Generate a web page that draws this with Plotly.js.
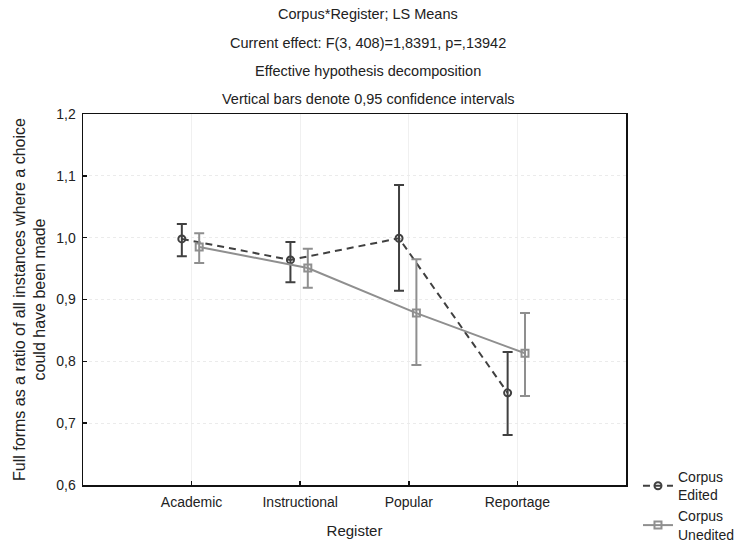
<!DOCTYPE html>
<html>
<head>
<meta charset="utf-8">
<script src="https://cdn.plot.ly/plotly-3.0.1.min.js"></script>
<style>
  html, body { margin: 0; padding: 0; background: #fff; }
  #chart { width: 735px; height: 547px; }
</style>
</head>
<body>
<div id="chart"></div>
<script>
// Registers on the x axis
const registers = ['Academic', 'Instructional', 'Popular', 'Reportage'];

// LS means and 0.95 confidence limits, Corpus Edited
const editedMean  = [0.998, 0.964, 0.999, 0.749];
const editedUpper = [1.022, 0.993, 1.085, 0.815];
const editedLower = [0.970, 0.928, 0.914, 0.681];

// LS means and 0.95 confidence limits, Corpus Unedited
const uneditedMean  = [0.985, 0.951, 0.878, 0.813];
const uneditedUpper = [1.007, 0.982, 0.965, 0.878];
const uneditedLower = [0.959, 0.919, 0.794, 0.744];

// Y tick labels use a decimal comma
const yTickVals = [0.6, 0.7, 0.8, 0.9, 1.0, 1.1, 1.2];
const yTickText = ['0,6', '0,7', '0,8', '0,9', '1,0', '1,1', '1,2'];

const titleLines = [
  'Corpus*Register; LS Means',
  'Current effect: F(3, 408)=1,8391, p=,13942',
  'Effective hypothesis decomposition',
  'Vertical bars denote 0,95 confidence intervals'
];

const FONT = 'Liberation Sans, Arial, sans-serif';
const DARK = '#404040';
const LIGHT = '#8f8f8f';

// Plot box geometry in pixels
const W = 735, H = 547;
const M = { l: 83, r: 109, t: 114, b: 62 };
const plotH = H - M.t - M.b;

// Small horizontal dodge so the two corpora do not overlap
const idx = registers.map((_, i) => i);
const xEdited = idx.map(i => i - 0.09);
const xUnedited = idx.map(i => i + 0.07);

function errs(mean, upper, lower, color) {
  return {
    type: 'data', symmetric: false,
    array: upper.map((u, i) => u - mean[i]),
    arrayminus: mean.map((m, i) => m - lower[i]),
    color: color, thickness: 2, width: 5
  };
}

const traces = [
  {
    x: xEdited, y: editedMean, name: 'Corpus<br>Edited',
    type: 'scatter', mode: 'lines+markers',
    line: { color: DARK, width: 2, dash: '7px,5px' },
    marker: { symbol: 'circle-open', size: 7, color: DARK, line: { width: 2, color: DARK } },
    error_y: errs(editedMean, editedUpper, editedLower, DARK)
  },
  {
    x: xUnedited, y: uneditedMean, name: 'Corpus<br>Unedited',
    type: 'scatter', mode: 'lines+markers',
    line: { color: LIGHT, width: 2 },
    marker: { symbol: 'square-open', size: 7, color: LIGHT, line: { width: 2, color: LIGHT } },
    error_y: errs(uneditedMean, uneditedUpper, uneditedLower, LIGHT)
  }
];

// Four centred heading lines above the plot box
const annotations = titleLines.map((t, i) => ({
  text: t, xref: 'paper', yref: 'paper',
  x: 0.525, y: 1 + (M.t - (14 + i * 28.5)) / plotH,
  xanchor: 'center', yanchor: 'middle', showarrow: false,
  font: { family: FONT, size: 14.5, color: '#222' }
}));

const layout = {
  width: W, height: H,
  margin: M,
  paper_bgcolor: '#fff', plot_bgcolor: '#fff',
  font: { family: FONT, size: 14, color: '#222' },
  showlegend: true,
  legend: {
    xref: 'container', yref: 'container',
    x: 0.868, xanchor: 'left', y: 1 - 461 / H, yanchor: 'top',
    font: { family: FONT, size: 14, color: '#222' },
    bgcolor: 'rgba(0,0,0,0)', tracegroupgap: 2, itemwidth: 30
  },
  xaxis: {
    range: [-1, 4],
    tickvals: idx, ticktext: registers,
    ticks: 'inside', ticklen: 4, tickwidth: 1.5, tickcolor: '#111',
    ticklabelstandoff: 4,
    showline: true, linecolor: '#111', linewidth: 1.5, mirror: true,
    showgrid: true, gridcolor: '#f0f0f0', gridwidth: 1,
    zeroline: false,
    tickfont: { family: FONT, size: 14, color: '#222' },
    title: { text: 'Register', font: { family: FONT, size: 15, color: '#222' }, standoff: 16 }
  },
  yaxis: {
    range: [0.6, 1.2],
    tickvals: yTickVals, ticktext: yTickText,
    ticks: 'inside', ticklen: 4, tickwidth: 1.5, tickcolor: '#111',
    ticklabelstandoff: 3,
    showline: true, linecolor: '#111', linewidth: 1.5, mirror: true,
    showgrid: true, gridcolor: '#ebebeb', gridwidth: 1, griddash: 'dot',
    zeroline: false,
    tickfont: { family: FONT, size: 14, color: '#222' },
    title: {
      text: 'Full forms as a ratio of all instances where a choice<br>could have been made',
      font: { family: FONT, size: 16, color: '#222' }, standoff: 6
    }
  },
  annotations: annotations
};

Plotly.newPlot('chart', traces, layout, { displayModeBar: false, staticPlot: true });
</script>
</body>
</html>
